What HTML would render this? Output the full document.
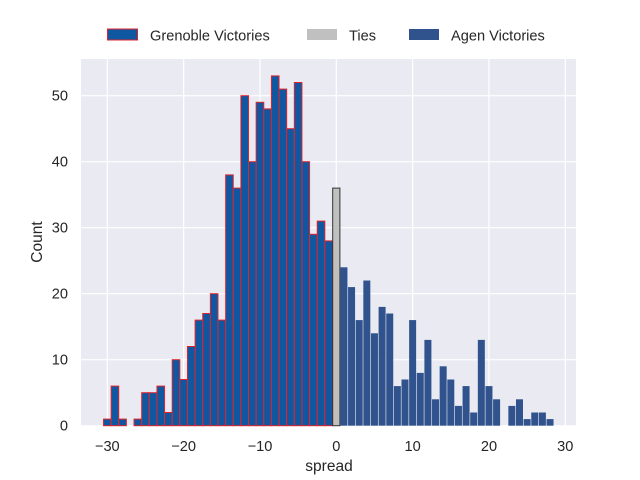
<!DOCTYPE html>
<html><head><meta charset="utf-8"><style>body{margin:0;background:#fff}svg{display:block;font-family:"Liberation Sans",Arial,sans-serif}</style></head><body>
<svg id="s" width="640" height="480" xmlns="http://www.w3.org/2000/svg">
<rect width="640" height="480" fill="#fff"/>
<rect x="81" y="59" width="495" height="367" fill="#eaeaf2"/>
<g id="grid" stroke="#fff" stroke-width="1.2"></g>
<g id="bars"></g>
<g id="lab" font-size="14.6" fill="#262626"></g>
<text x="329" y="471" font-size="15.5" text-anchor="middle" fill="#262626">spread</text>
<text transform="translate(42,242) rotate(-90)" font-size="15.5" text-anchor="middle" fill="#262626">Count</text>
<rect x="107.5" y="29" width="30" height="11" fill="#0f57a0" stroke="#e0242c" stroke-width="1"/>
<text x="150" y="40.5" font-size="14.6" fill="#262626">Grenoble Victories</text>
<rect x="307" y="29" width="30" height="11" fill="#c0c0c0"/>
<text x="349" y="40.5" font-size="14.6" fill="#262626">Ties</text>
<rect x="409" y="29" width="30" height="11" fill="#30528d"/>
<text x="451" y="40.5" font-size="14.6" fill="#262626">Agen Victories</text>
</svg>
<script>
const X=v=>336.3+v*7.633, Y=c=>425.7-c*6.6;
let g='',b='',l='';
for(let v=-30;v<=30;v+=10){g+=`<line x1="${X(v)}" y1="59" x2="${X(v)}" y2="426"/>`;l+=`<text x="${X(v)}" y="451" text-anchor="middle">${v<0?'\u2212'+(-v):v}</text>`;}
for(let c=0;c<=50;c+=10){g+=`<line x1="81" y1="${Y(c)}" x2="576" y2="${Y(c)}"/>`;l+=`<text x="68" y="${Y(c)+5}" text-anchor="end">${c}</text>`;}
const gr=[1,6,1,0,1,5,5,6,2,10,7,12,16,17,20,16,38,36,50,40,49,48,53,51,45,52,40,29,31,28];
gr.forEach((c,i)=>{if(!c)return;const v=-30+i;b+=`<rect x="${X(v)-3.8}" y="${Y(c)}" width="7.6" height="${c*6.6}" fill="#0f57a0" stroke="#e0242c" stroke-width="1"/>`;});
const ag=[24,21,16,22,14,18,17,6,7,16,8,13,4,9,7,3,6,2,13,6,4,0,3,4,1,2,2,1];
ag.forEach((c,i)=>{if(!c)return;const v=1+i;b+=`<rect x="${X(v)-3.5}" y="${Y(c)}" width="7" height="${c*6.6}" fill="#30528d"/>`;});
b+=`<rect x="${X(0)-3.6}" y="${Y(36)}" width="7.2" height="${36*6.6}" fill="#c0c0c0" stroke="#333" stroke-width="1"/>`;
document.getElementById('grid').innerHTML=g;document.getElementById('bars').innerHTML=b;document.getElementById('lab').innerHTML=l;
</script>
</body></html>
